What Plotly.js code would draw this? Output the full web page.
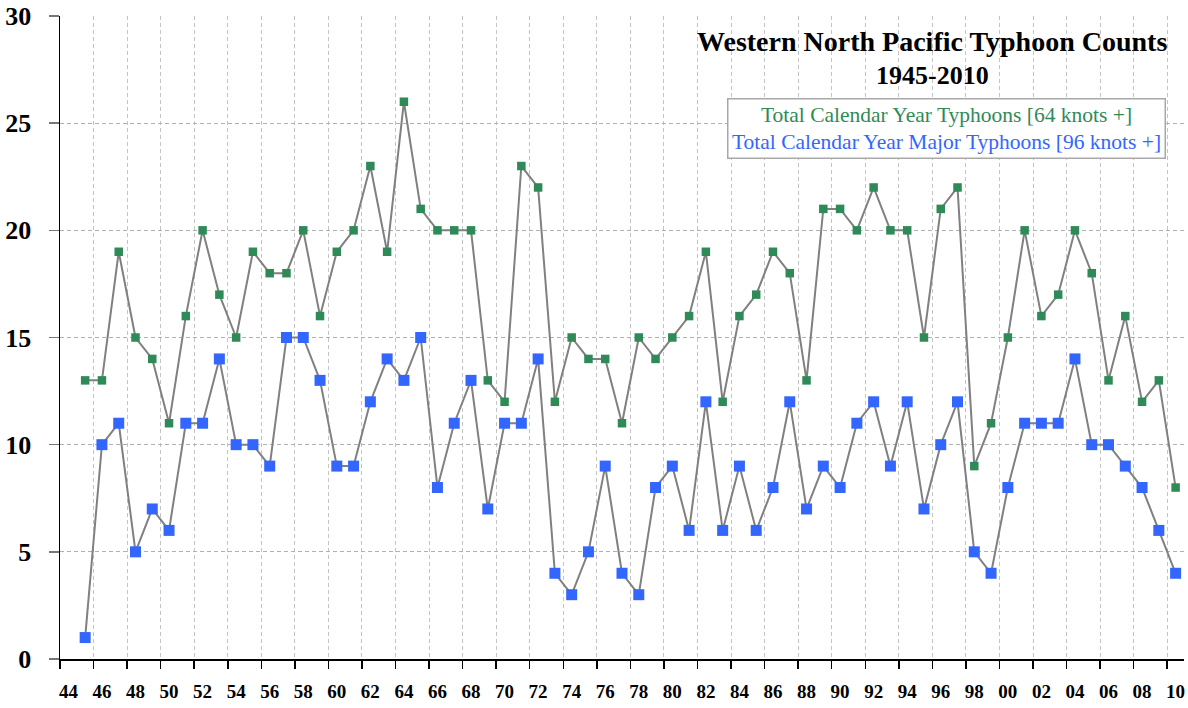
<!DOCTYPE html>
<html>
<head>
<meta charset="utf-8">
<script src="https://cdn.plot.ly/plotly-3.0.1.min.js"></script>
<style>
html,body{margin:0;padding:0;background:#fff;}
#chart{width:1188px;height:708px;}
</style>
</head>
<body>
<div id="chart"></div>
<script>
const years = [1945,1946,1947,1948,1949,1950,1951,1952,1953,1954,1955,1956,1957,1958,1959,1960,1961,1962,1963,1964,1965,1966,1967,1968,1969,1970,1971,1972,1973,1974,1975,1976,1977,1978,1979,1980,1981,1982,1983,1984,1985,1986,1987,1988,1989,1990,1991,1992,1993,1994,1995,1996,1997,1998,1999,2000,2001,2002,2003,2004,2005,2006,2007,2008,2009,2010];

const totalTyphoons = [13,13,19,15,14,11,16,20,17,15,19,18,18,20,16,19,20,23,19,26,21,20,20,20,13,12,23,22,12,15,14,14,11,15,14,15,16,19,12,16,17,19,18,13,21,21,20,22,20,20,15,21,22,9,11,15,20,16,17,20,18,13,16,12,13,8];

const majorTyphoons = [1,10,11,5,7,6,11,11,14,10,10,9,15,15,13,9,9,12,14,13,15,8,11,13,7,11,11,14,4,3,5,9,4,3,8,9,6,12,6,9,6,8,12,7,9,8,11,12,9,12,7,10,12,5,4,8,11,11,11,14,10,10,9,8,6,4];

const labelYears = [1944,1946,1948,1950,1952,1954,1956,1958,1960,1962,1964,1966,1968,1970,1972,1974,1976,1978,1980,1982,1984,1986,1988,1990,1992,1994,1996,1998,2000,2002,2004,2006,2008,2010];
const labelText = ["44","46","48","50","52","54","56","58","60","62","64","66","68","70","72","74","76","78","80","82","84","86","88","90","92","94","96","98","00","02","04","06","08","10"];

const yTicks = [0,5,10,15,20,25,30];

const titleLine1 = "Western North Pacific Typhoon Counts";
const titleLine2 = "1945-2010";
const seriesNames = ["Total Calendar Year Typhoons [64 knots +]", "Total Calendar Year Major Typhoons [96 knots +]"];
const seriesColors = ["#2e8b57", "#3366ff"];

const FONT = "Liberation Serif, Times New Roman, serif";
const boundaries = labelYears.map(v => v - 0.5);
const xRange = [labelYears[0] - 0.5, labelYears[labelYears.length-1] + 0.5];

const traces = [
  {
    x: years, y: totalTyphoons, name: seriesNames[0], type: 'scatter', mode: 'lines+markers',
    line: {color: '#808080', width: 2},
    marker: {symbol: 'square', size: 8.5, color: seriesColors[0]}
  },
  {
    x: years, y: majorTyphoons, name: seriesNames[1], type: 'scatter', mode: 'lines+markers',
    line: {color: '#808080', width: 2},
    marker: {symbol: 'square', size: 11, color: seriesColors[1]}
  }
];

const layout = {
  width: 1188, height: 708,
  margin: {l: 60, r: 4, t: 16, b: 49},
  paper_bgcolor: '#fff', plot_bgcolor: '#fff',
  showlegend: false,
  font: {family: FONT, color: '#000'},
  xaxis: {
    type: 'linear', range: xRange,
    tickmode: 'array', tickvals: labelYears, ticktext: labelText,
    ticks: '', ticklabelstandoff: 15,
    tickfont: {family: FONT, size: 19, color: '#000', weight: 'bold'},
    showgrid: false,
    minor: {
      tickmode: 'array', tickvals: boundaries,
      ticks: 'outside', ticklen: 8, tickwidth: 1.5, tickcolor: '#000',
      showgrid: true, gridcolor: '#c4c4c4', griddash: '4px,3px', gridwidth: 1
    },
    showline: true, linecolor: '#000', linewidth: 1.5,
    zeroline: false, fixedrange: true
  },
  yaxis: {
    range: [0, 30], tickmode: 'array', tickvals: yTicks,
    ticks: 'outside', ticklen: 10, tickwidth: 1.5, tickcolor: '#777',
    ticklabelstandoff: 12,
    tickfont: {family: FONT, size: 26, color: '#000', weight: 'bold'},
    showgrid: true, gridcolor: '#b0b0b0', griddash: '4px,3px', gridwidth: 1,
    showline: true, linecolor: '#000', linewidth: 1.5,
    zeroline: false, fixedrange: true
  },
  annotations: [
    {xref: 'paper', yref: 'paper', x: 0.776, y: 0.96, xanchor: 'center', yanchor: 'middle',
     text: '<b>' + titleLine1 + '</b>', showarrow: false,
     font: {family: FONT, size: 28, color: '#000'}},
    {xref: 'paper', yref: 'paper', x: 0.776, y: 0.907, xanchor: 'center', yanchor: 'middle',
     text: '<b>' + titleLine2 + '</b>', showarrow: false,
     font: {family: FONT, size: 26, color: '#000'}},
    {xref: 'paper', yref: 'paper', x: 0.789, y: 0.873, xanchor: 'center', yanchor: 'top',
     text: '<span style="color:' + seriesColors[0] + '">' + seriesNames[0] + '</span><br>' +
           '<span style="color:' + seriesColors[1] + '">' + seriesNames[1] + '</span>',
     showarrow: false, align: 'center', width: 434, height: 56,
     font: {family: FONT, size: 21.5}, bgcolor: '#fff', bordercolor: '#a8a8a8', borderwidth: 1.5,
     borderpad: 1}
  ]
};

Plotly.newPlot('chart', traces, layout, {displayModeBar: false, staticPlot: true});
</script>
</body>
</html>
